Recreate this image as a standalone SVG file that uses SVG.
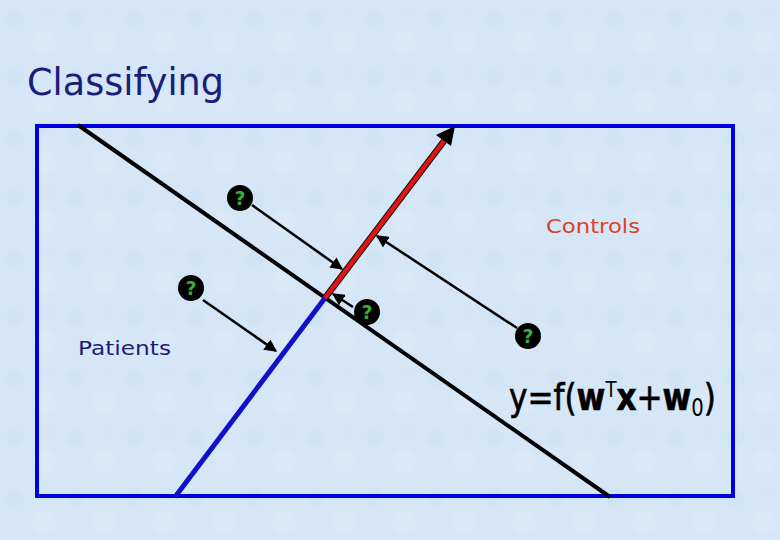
<svg xmlns="http://www.w3.org/2000/svg" width="780" height="540" viewBox="0 0 780 540">
<defs>
<marker id="ah" viewBox="0 0 10 10" refX="9" refY="5" markerWidth="5" markerHeight="5" orient="auto" markerUnits="strokeWidth">
<path d="M0,0 L10,5 L0,10 z" fill="#000"/>
</marker>
<pattern id="tex" width="60" height="60" patternUnits="userSpaceOnUse">
<rect width="60" height="60" fill="#d5e7f7"/>
<circle cx="15" cy="18" r="9" fill="#cadff2" opacity="0.4"/>
<circle cx="44" cy="42" r="11" fill="#deecf9" opacity="0.5"/>
<circle cx="48" cy="12" r="5" fill="#cde1f3" opacity="0.35"/>
</pattern>
</defs>
<style>
.q circle{fill:#000}
.q text{fill:#3caa3c;font-family:"DejaVu Sans",sans-serif;font-weight:bold;font-size:19px;text-anchor:middle}
.arr{stroke:#000;stroke-width:2.5;fill:none;marker-end:url(#ah)}
.lbl{font-family:"DejaVu Sans",sans-serif}
</style>
<rect width="780" height="540" fill="url(#tex)"/>
<text class="lbl" x="27" y="95" font-size="37" fill="#1c1c7a" textLength="197" lengthAdjust="spacingAndGlyphs">Classifying</text>
<rect id="frame" x="37" y="126" width="696" height="370" fill="none" stroke="#0000dd" stroke-width="4"/>
<g id="connectors">
<line id="boundary" x1="78" y1="125" x2="610" y2="497" stroke="#000" stroke-width="4"/>
<line id="wneg" x1="175" y1="497" x2="325" y2="298" stroke="#1010c8" stroke-width="5"/>
<line id="wpos" x1="325" y1="298" x2="444" y2="141" stroke="#111" stroke-width="6.5"/>
<line x1="325" y1="298" x2="444" y2="141" stroke="#e01414" stroke-width="4.5"/>
<polygon points="455,126 436,135 451,146" fill="#000"/>
<line class="arr" x1="252" y1="205" x2="342" y2="269"/>
<line class="arr" x1="203" y1="300" x2="276" y2="351"/>
<line class="arr" x1="353" y1="307" x2="333" y2="294"/>
<line class="arr" x1="517" y1="328" x2="377" y2="236"/>
</g>
<g id="q1" class="q"><circle cx="240" cy="198" r="13"/><text x="240" y="205">?</text></g>
<g id="q2" class="q"><circle cx="191" cy="288" r="13"/><text x="191" y="295">?</text></g>
<g id="q3" class="q"><circle cx="367" cy="312" r="13"/><text x="367" y="319">?</text></g>
<g id="q4" class="q"><circle cx="528" cy="336" r="13"/><text x="528" y="343">?</text></g>
<text id="controls" class="lbl" x="546" y="233" font-size="20" fill="#e04020" textLength="94" lengthAdjust="spacingAndGlyphs">Controls</text>
<text id="patients" class="lbl" x="78" y="355" font-size="20" fill="#1c1c7a" textLength="93" lengthAdjust="spacingAndGlyphs">Patients</text>
<text id="formula" class="lbl" x="509" y="410" font-size="38" fill="#000" stroke="#000" stroke-width="0.7" textLength="207" lengthAdjust="spacingAndGlyphs">y=f(<tspan font-weight="bold">w</tspan><tspan font-size="22" stroke-width="0" dy="-13">T</tspan><tspan font-weight="bold" dy="13">x</tspan>+<tspan font-weight="bold">w</tspan><tspan font-size="24" stroke-width="0" dy="6">0</tspan><tspan dy="-6">)</tspan></text>
</svg>
